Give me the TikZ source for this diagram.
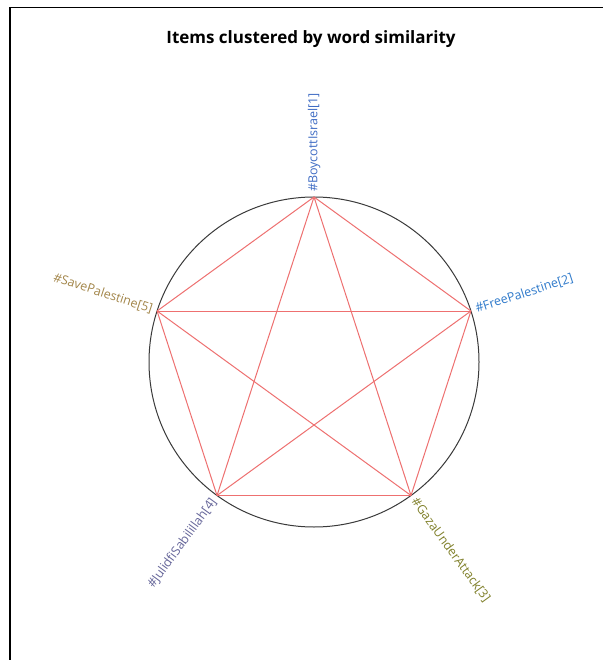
\documentclass[tikz,border=0pt]{standalone}
\usepackage{fontspec}
\setmainfont{Open Sans}
\definecolor{edgered}{HTML}{EE7070}
\definecolor{ringgray}{HTML}{3A3A3A}
\definecolor{labA}{HTML}{3F6CC4}
\definecolor{labB}{HTML}{2F7ACB}
\definecolor{labC}{HTML}{80802A}
\definecolor{labD}{HTML}{66669A}
\definecolor{labE}{HTML}{A3864A}
\tikzset{
  edge/.style={draw=edgered, line width=1pt},
  ring/.style={draw=ringgray, line width=1pt},
  lab/.style={inner sep=0pt, font=\fontsize{12.5}{14}\selectfont},
  titlestyle/.style={font=\bfseries\fontsize{17}{20}\selectfont, inner sep=0pt}
}
\begin{document}
\begin{tikzpicture}[x=1pt,y=-1pt]
\useasboundingbox (0,0) rectangle (603,660);
\fill[white] (0,0) rectangle (603,660);
% frame (top and left)
\draw[line width=1.4pt, black] (10,660) -- (10,7.5) -- (603,7.5);
% title
\node[titlestyle] (title) at (311,39) {Items clustered by word similarity};
% circle
\coordinate (c) at (314,362);
\draw[ring] (c) circle (165);
% vertices
\path (c) ++(-90:165) coordinate (v1);
\path (c) ++(-18:165) coordinate (v2);
\path (c) ++(54:165) coordinate (v3);
\path (c) ++(126:165) coordinate (v4);
\path (c) ++(-162:165) coordinate (v5);
% edges
\foreach \a/\b in {v1/v2,v1/v3,v1/v4,v1/v5,v2/v3,v2/v4,v2/v5,v3/v4,v3/v5,v4/v5}
  \draw[edge] (\a) -- (\b);
% labels
\path (c) ++(-90:170) node[lab, text=labA, rotate=90, anchor=west] (l1) {\#BoycottIsrael[1]};
\path (c) ++(-18:170) node[lab, text=labB, rotate=18, anchor=west] (l2) {\#FreePalestine[2]};
\path (c) ++(54:170) node[lab, text=labC, rotate=-54, anchor=west] (l3) {\#GazaUnderAttack[3]};
\path (c) ++(126:170) node[lab, text=labD, rotate=54, anchor=east] (l4) {\#JulidfiSabilillah[4]};
\path (c) ++(-162:170) node[lab, text=labE, rotate=-18, anchor=east] (l5) {\#SavePalestine[5]};
\end{tikzpicture}
\end{document}
